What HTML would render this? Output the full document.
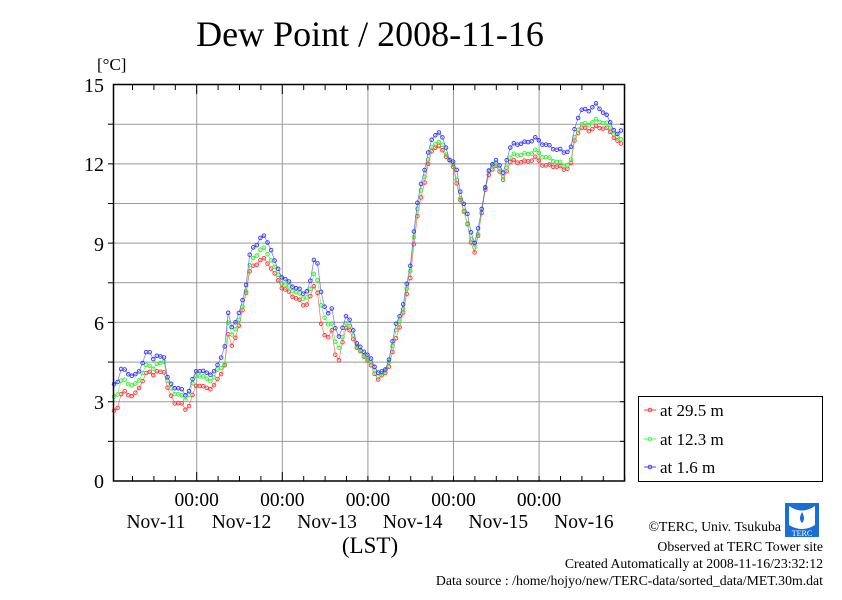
<!DOCTYPE html>
<html><head><meta charset="utf-8"><style>
body{margin:0;background:#fff;}
svg text{font-family:"Liberation Serif",serif;fill:#000;}
</style></head><body>
<svg id="s" width="842" height="595" xmlns="http://www.w3.org/2000/svg">
<rect width="842" height="595" fill="#fff"/>
<text x="370" y="46" font-size="36" text-anchor="middle">Dew Point / 2008-11-16</text>
<text x="97" y="70" font-size="17">[°C]</text>
<g id="grid" stroke="#999" stroke-width="1"></g>
<g id="data"></g>
<rect x="113.5" y="84.5" width="511" height="396.5" fill="none" stroke="#000" stroke-width="1.5"/>
<g id="ticks" stroke="#000" stroke-width="1"></g>
<g font-size="20" text-anchor="end">
<text x="104" y="488">0</text><text x="104" y="409">3</text><text x="104" y="330">6</text>
<text x="104" y="251">9</text><text x="104" y="171">12</text><text x="104" y="92">15</text>
</g>
<g font-size="19.5" text-anchor="middle" id="xl"></g>
<text x="370" y="553" font-size="23" text-anchor="middle">(LST)</text>
<rect x="638.5" y="396.5" width="184" height="85" fill="none" stroke="#000" stroke-width="1"/>
<g font-size="17">
<line x1="644" y1="410" x2="656" y2="410" stroke="#f44"/><circle cx="650" cy="410" r="1.8" fill="none" stroke="#f44"/><text x="660" y="416">at 29.5 m</text>
<line x1="644" y1="439" x2="656" y2="439" stroke="#4f4"/><circle cx="650" cy="439" r="1.8" fill="none" stroke="#4f4"/><text x="660" y="445">at 12.3 m</text>
<line x1="644" y1="467" x2="656" y2="467" stroke="#44f"/><circle cx="650" cy="467" r="1.8" fill="none" stroke="#44f"/><text x="660" y="473">at 1.6 m</text>
</g>
<g transform="translate(785,503)">
<rect width="34" height="34" fill="#1a6fd6"/>
<path d="M4 3 Q17 12 30 3 L30 22 Q17 30 4 22Z" fill="#fff"/>
<path d="M17 9 Q21 16 17 20 Q13 16 17 9Z" fill="#1a6fd6"/>
<text x="17" y="33" font-size="8" text-anchor="middle" style="fill:#fff">TERC</text>
</g>
<g font-size="13.8" text-anchor="end">
<text x="781" y="531">©TERC, Univ. Tsukuba</text>
<text x="823" y="551">Observed at TERC Tower site</text>
<text x="823" y="568">Created Automatically at 2008-11-16/23:32:12</text>
<text x="823" y="585">Data source : /home/hojyo/new/TERC-data/sorted_data/MET.30m.dat</text>
</g>
</svg>
<script>
var NS="http://www.w3.org/2000/svg";
function el(p,t,a){var e=document.createElementNS(NS,t);for(var k in a)e.setAttribute(k,a[k]);p.appendChild(e);return e;}
var Y=function(v){return 481-v*26.43;};
var g=document.getElementById('grid'),tk=document.getElementById('ticks'),xl=document.getElementById('xl');
for(var i=1;i<10;i++){var y=Y(i*1.5);el(g,'line',{x1:113,x2:625,y1:y,y2:y});el(tk,'line',{x1:113,x2:108,y1:y,y2:y});el(tk,'line',{x1:625,x2:620,y1:y,y2:y});}
var d0=196.7,day=85.6;
for(var k=0;k<5;k++){var x=d0+k*day;el(g,'line',{x1:x,x2:x,y1:85,y2:481});}
for(var t=d0-3*day/4;t<625;t+=day/4){var L=(Math.abs(((t-d0)/day)%1)<0.01)?9:5;el(tk,'line',{x1:t,x2:t,y1:85,y2:85+L});el(tk,'line',{x1:t,x2:t,y1:481,y2:481-L});}
var names=["Nov-11","Nov-12","Nov-13","Nov-14","Nov-15","Nov-16"];
for(var k=0;k<6;k++){var x=d0-day/2+k*day;var e=el(xl,'text',{x:x+2,y:528});e.textContent=names[k];}
for(var k=0;k<5;k++){var e=el(xl,'text',{x:d0+k*day,y:506});e.textContent="00:00";}
var K=[[113,3.8,3.4,2.9],[116,3.3,2.9,2.5],[119,4.1,3.7,3.2],[125,4.2,3.9,3.5],[133,3.9,3.6,3.2],[140,4.3,4.0,3.7],[145,4.7,4.3,3.9],[148,5.2,4.6,4.3],[152,4.7,4.3,4.0],[160,4.8,4.5,4.1],[165,4.8,4.6,4.1],[168,3.8,3.6,3.3],[175,3.6,3.3,2.9],[183,3.4,3.1,2.8],[187,3.2,3.0,2.6],[193,3.8,3.6,3.2],[197,4.2,4.0,3.7],[205,4.0,3.8,3.5],[213,4.0,3.8,3.6],[218,4.3,4.2,3.9],[225,5.1,4.5,4.5],[228,6.3,6.0,5.6],[232,5.8,5.6,5.2],[240,6.4,6.2,6.0],[246,7.5,7.3,7.2],[250,8.7,8.3,8.0],[256,9.0,8.6,8.2],[262,9.4,8.9,8.4],[270,9.0,8.5,8.1],[275,8.3,8.0,7.7],[283,7.7,7.4,7.2],[295,7.3,7.1,6.9],[305,7.0,6.8,6.6],[311,7.5,7.2,7.0],[314,8.3,7.8,7.4],[318,8.2,7.6,7.2],[322,6.7,6.3,5.6],[327,6.3,6.0,5.5],[332,6.5,6.0,5.8],[337,5.3,4.9,4.3],[342,5.8,5.5,5.3],[347,6.3,6.1,5.9],[352,6.0,5.8,5.6],[357,5.2,5.1,5.0],[365,5.0,4.8,4.7],[372,4.6,4.4,4.2],[378,4.2,4.0,3.8],[384,4.1,4.0,3.9],[390,4.8,4.6,4.4],[396,5.9,5.6,5.3],[403,6.6,6.4,6.3],[410,8.0,7.8,7.6],[415,9.8,9.6,9.4],[420,11.0,10.8,10.6],[428,12.3,12.1,12.0],[433,13.0,12.8,12.7],[438,13.2,12.9,12.8],[443,12.9,12.7,12.5],[448,12.5,12.3,12.3],[451,11.9,12.2,12.2],[455,12.2,11.8,11.6],[462,10.7,10.5,10.4],[468,10.1,9.7,9.6],[474,9.0,8.8,8.5],[479,9.7,9.4,9.3],[484,11.0,10.9,10.8],[490,11.9,11.8,11.6],[496,12.2,12.0,11.9],[503,11.6,11.4,11.3],[509,12.5,12.1,12.0],[515,12.7,12.3,12.1],[525,12.7,12.3,12.1],[535,12.9,12.5,12.3],[545,12.7,12.3,12.0],[555,12.6,12.2,12.0],[565,12.5,12.0,11.8],[572,12.7,12.2,12.0],[575,13.5,13.2,13.0],[580,14.1,13.5,13.3],[590,14.1,13.5,13.2],[595,14.3,13.6,13.3],[605,13.9,13.5,13.3],[612,13.4,13.2,13.1],[618,13.0,12.9,12.8],[622,13.2,12.8,12.7]];
function val(x,c){for(var i=0;i<K.length-1;i++){if(x<=K[i+1][0]){var f=(x-K[i][0])/(K[i+1][0]-K[i][0]);return K[i][c]+(K[i+1][c]-K[i][c])*f;}}return K[K.length-1][c];}
var dg=document.getElementById('data');
var cols=[[3,"#f33"],[2,"#3e3"],[1,"#33f"]];
cols.forEach(function(cc,j){var pts=[];for(var x=114;x<=622;x+=3.57){var n=0.08*Math.sin(x*1.7+j)+0.06*Math.sin(x*0.53);pts.push([x,Y(val(x,cc[0])+n)]);}
el(dg,'polyline',{points:pts.map(function(p){return p[0].toFixed(1)+','+p[1].toFixed(1);}).join(' '),fill:'none',stroke:cc[1],'stroke-width':0.7,'stroke-opacity':0.7});
pts.forEach(function(p){el(dg,'circle',{cx:p[0].toFixed(1),cy:p[1].toFixed(1),r:1.8,fill:'none',stroke:cc[1],'stroke-width':0.9});});});
</script>
</body></html>
